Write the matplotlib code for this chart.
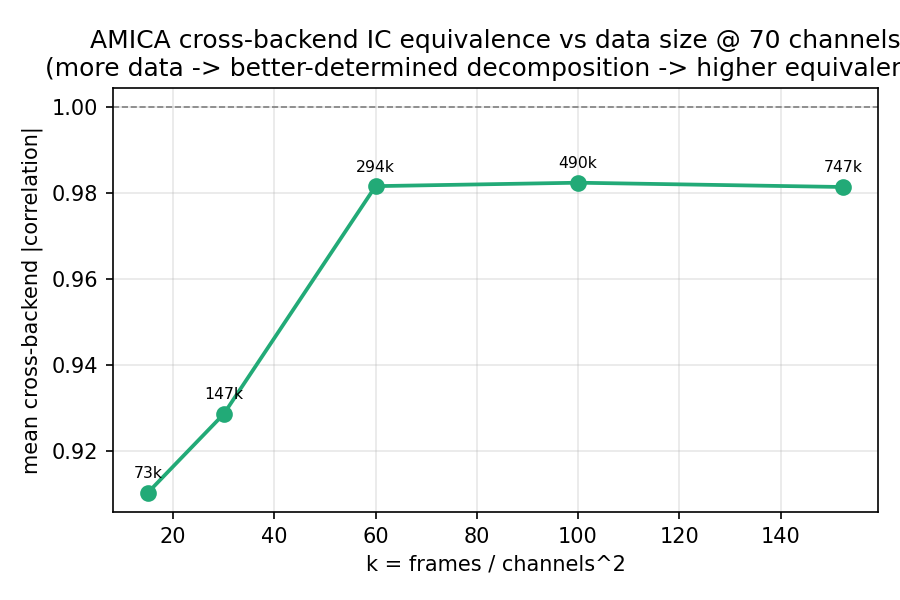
import matplotlib
matplotlib.use("Agg")
import matplotlib.pyplot as plt

#data
k_values = [15, 30, 60, 100, 152.4]
mean_corr = [0.9104, 0.9287, 0.9817, 0.9825, 0.9815]
frame_labels = ["73k", "147k", "294k", "490k", "747k"]

#plot
fig, ax = plt.subplots(figsize=(6, 4), dpi=150)
fig.subplots_adjust(left=0.1256, right=0.9756, top=0.853, bottom=0.1467)

ax.plot(k_values, mean_corr, "o-", color="#22aa77", lw=1.8, ms=7)
for x, y, lab in zip(k_values, mean_corr, frame_labels):
	ax.annotate(lab, (x, y), textcoords="offset points", xytext=(0, 7),
		ha="center", fontsize=7.5)
ax.axhline(1.0, color="gray", ls="--", lw=0.8)

ax.set_xlabel("k = frames / channels^2")
ax.set_ylabel("mean cross-backend |correlation|")
ax.set_title("AMICA cross-backend IC equivalence vs data size @ 70 channels\n"
	"(more data -> better-determined decomposition -> higher equivalence)")
ax.grid(alpha=0.3)

fig.savefig("out.png")
